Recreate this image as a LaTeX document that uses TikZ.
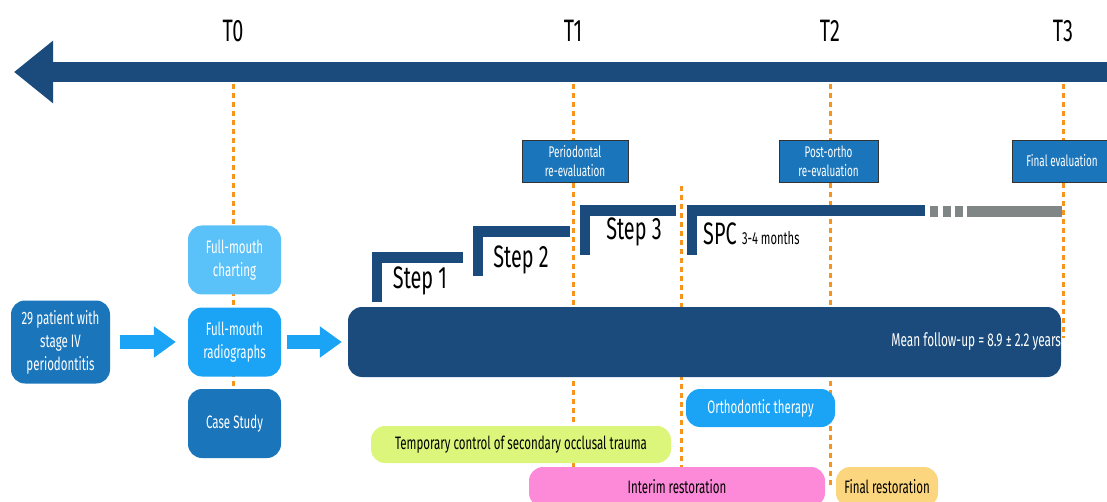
\documentclass[tikz,border=0pt]{standalone}
\usepackage{fontspec}
\setmainfont[FakeStretch=0.64]{Fira Sans}
\usetikzlibrary{arrows.meta}

\definecolor{navy}{HTML}{1A4B7C}
\definecolor{midblue}{HTML}{1A75BB}
\definecolor{skyblue}{HTML}{1BA3F5}
\definecolor{paleblue}{HTML}{5BC1F9}
\definecolor{dotorange}{HTML}{F7941E}
\definecolor{limefill}{HTML}{DCF67C}
\definecolor{pinkfill}{HTML}{FD8AD9}
\definecolor{sandfill}{HTML}{FCD67E}
\definecolor{spcgrey}{HTML}{808585}

\begin{document}
\begin{tikzpicture}[x=1pt,y=-1pt,
  tlabel/.style={font=\fontsize{31}{31}\selectfont},
  timeline/.style={dotorange, line width=3pt, dash pattern=on 5pt off 4pt},
  evalbox/.style={draw=black!80, line width=0.8pt, fill=midblue, text=white,
    font=\fontsize{15.5}{19}\selectfont, align=center, inner sep=0pt, minimum height=42pt},
  flowbox/.style={rounded corners=14pt, text=white, font=\fontsize{18}{23}\selectfont,
    align=center, inner sep=0pt, minimum width=93pt, minimum height=69pt},
  pill/.style={rounded corners=14pt, font=\fontsize{18}{20}\selectfont, inner sep=0pt,
    minimum height=38pt},
  steplabel/.style={font=\fontsize{31}{31}\selectfont, inner sep=0pt},
  fatarrow/.style={skyblue, line width=14pt, -{Triangle[width=30pt,length=22pt]}},
]
\useasboundingbox (0,0) rectangle (1107,502);

% time axis
\coordinate (tstart) at (1107,72);
\coordinate (tend) at (14,72);
\draw[navy, line width=20pt, -{Triangle[width=60pt,length=39pt]}] (tstart) -- (tend);
\node[tlabel] (t0) at (233,31) {T0};
\node[tlabel] (t1) at (573,31) {T1};
\node[tlabel] (t2) at (830,31) {T2};
\node[tlabel] (t3) at (1063,31) {T3};

% dotted time marks
\draw[timeline] (233,84) -- (233,390);
\draw[timeline] (573,84) -- (573,500);
\draw[timeline] (681,186) -- (681,468);
\draw[timeline] (830,84) -- (830,488);
\draw[timeline] (1063,84) -- (1063,338);

% evaluations
\node[evalbox, minimum width=106pt] (perio) at (575,161) {Periodontal\\re-evaluation};
\node[evalbox, minimum width=99pt] (postortho) at (828.5,161) {Post-ortho\\re-evaluation};
\node[evalbox, minimum width=100pt] (final) at (1062,161) {Final evaluation};

% treatment steps
\foreach \x/\y/\len in {372/252/91, 473/226/97, 580/205/96, 687/205/238}{
  \fill[navy] (\x,\y) rectangle ++(10,50);
  \fill[navy] (\x,\y) rectangle ++(\len,11);
}
\fill[spcgrey] (930,206) rectangle (938,217);
\fill[spcgrey] (943,206) rectangle (951,217);
\fill[spcgrey] (955,206) rectangle (963,217);
\fill[spcgrey] (967,206) rectangle (1062,217);
\node[steplabel] (step1) at (420,281) {Step 1};
\node[steplabel] (step2) at (521,260) {Step 2};
\node[steplabel] (step3) at (634,232) {Step 3};
\node[steplabel, anchor=base west] (spc) at (703,245) {SPC};
\node[anchor=base west, inner sep=0pt, font=\fontsize{17.5}{17.5}\selectfont] (months)
  at ([xshift=5pt]spc.base east) {3-4 months};

% patients and baseline
\node[flowbox, fill=midblue, minimum width=99pt, minimum height=83pt] (patient)
  at (60.5,342) {29 patient with\\stage IV\\periodontitis};
\node[flowbox, fill=paleblue] (charting) at (234.5,260) {Full-mouth\\charting};
\node[flowbox, fill=skyblue] (radio) at (234.5,342) {Full-mouth\\radiographs};
\node[flowbox, fill=midblue] (casestudy) at (234.5,423.5) {Case Study};
\node[rounded corners=14pt, fill=navy, minimum width=713pt, minimum height=70pt,
  inner sep=0pt] (follow) at (704.5,342) {};
\node[anchor=east, inner sep=0pt, text=white, font=\fontsize{18.5}{18.5}\selectfont]
  (mean) at (follow.east) {Mean follow-up = 8.9 ± 2.2 years};
\draw[fatarrow, shorten <=10pt, shorten >=12pt] (patient) -- (radio);
\draw[fatarrow, shorten <=6pt, shorten >=6pt] (radio) -- (follow);

% adjunct therapies
\node[pill, fill=skyblue, text=white, minimum width=149pt] (ortho) at (760.5,408)
  {Orthodontic therapy};
\node[pill, fill=limefill, minimum width=300pt, minimum height=37pt] (occlusal)
  at (521,444.5) {Temporary control of secondary occlusal trauma};
\node[pill, fill=pinkfill, minimum width=296pt, minimum height=40pt] (interim)
  at (677,487) {Interim restoration};
\node[pill, fill=sandfill, minimum width=102pt, minimum height=40pt] (finalrest)
  at (887,487) {Final restoration};
\end{tikzpicture}
\end{document}
